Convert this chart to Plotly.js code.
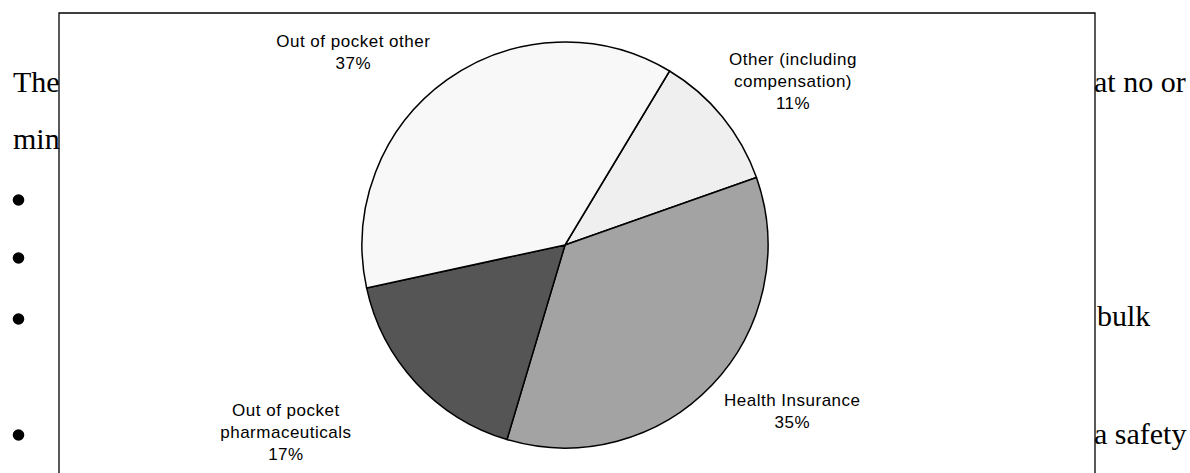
<!DOCTYPE html>
<html>
<head>
<meta charset="utf-8">
<script src="https://cdn.plot.ly/plotly-3.0.1.min.js"></script>
<style>
html,body{margin:0;padding:0;background:#fff;}
#chart{width:1190px;height:473px;}
.lbl-spaced text.annotation-text{letter-spacing:0.5px;}
.lbl-spaced text.annotation-text[style*="Serif"]{letter-spacing:0;}
</style>
</head>
<body>
<div id="chart" class="lbl-spaced"></div>
<script>
// ---- data ----
var categories = ["Other (including compensation)", "Health Insurance", "Out of pocket pharmaceuticals", "Out of pocket other"];
var labelLines = ["Other (including<br>compensation)", "Health Insurance", "Out of pocket<br>pharmaceuticals", "Out of pocket other"];
var shares = [11, 35, 17, 37];
var sliceColors = ["#efefef", "#a3a3a3", "#555555", "#f8f8f8"];

// background document text fragments visible around the chart
var docTexts = ["The", "min", "at no or", "bulk", "a safety"];

// ---- layout helpers ----
var W = 1190, H = 473;
function fx(x){ return x / W; }
function fy(y){ return 1 - y / H; }

// label centres (px)
var labelPos = [[792.5, 82], [792, 411.5], [285.5, 432], [353.5, 52.5]];

var annotations = [];
for (var i = 0; i < categories.length; i++) {
  annotations.push({
    xref: "paper", yref: "paper",
    x: fx(labelPos[i][0]), y: fy(labelPos[i][1]),
    xanchor: "center", yanchor: "middle",
    text: labelLines[i] + "<br>" + shares[i] + "%",
    showarrow: false,
    align: "center",
    font: {family: "Liberation Sans, Arial, sans-serif", size: 17, color: "#000"}
  });
}

// doc text: [x, baseline, anchor]
var docPos = [[12, 92, "left"], [12, 148, "left"], [1187, 92, "right"], [1096, 325, "left"], [1187, 443, "right"]];
for (var j = 0; j < docTexts.length; j++) {
  annotations.push({
    xref: "paper", yref: "paper",
    x: fx(docPos[j][0]), y: fy(docPos[j][1] - 10),
    xanchor: docPos[j][2], yanchor: "middle",
    text: docTexts[j], showarrow: false,
    xshift: docPos[j][2] === "left" ? -1 : 1,
    font: {family: "Liberation Serif, Times New Roman, serif", size: 30, color: "#000"}
  });
}

var shapes = [{
  type: "rect", xref: "paper", yref: "paper", layer: "below",
  x0: fx(59), x1: fx(1095), y0: fy(480), y1: fy(13),
  fillcolor: "#ffffff", line: {color: "#000", width: 1.3}
}];
var bulletY = [200, 258, 319, 435];
bulletY.forEach(function(by){
  shapes.push({
    type: "circle", xref: "paper", yref: "paper", layer: "below",
    x0: fx(18.5 - 5.8), x1: fx(18.5 + 5.8), y0: fy(by + 5.8), y1: fy(by - 5.8),
    fillcolor: "#000", line: {width: 0}
  });
});

var cx = 565, cy = 245, r = 203;
var trace = {
  type: "pie",
  labels: categories,
  values: shares,
  sort: false,
  direction: "clockwise",
  rotation: 31,
  textinfo: "none",
  hoverinfo: "label+percent",
  marker: {colors: sliceColors, line: {color: "#000", width: 1.5}},
  domain: {x: [fx(cx - r), fx(cx + r)], y: [fy(cy + r), fy(cy - r)]},
  showlegend: false
};

var layout = {
  width: W, height: H,
  margin: {l: 0, r: 0, t: 0, b: 0},
  paper_bgcolor: "#ffffff",
  showlegend: false,
  annotations: annotations,
  shapes: shapes
};

Plotly.newPlot("chart", [trace], layout, {displayModeBar: false, staticPlot: true});
</script>
</body>
</html>
